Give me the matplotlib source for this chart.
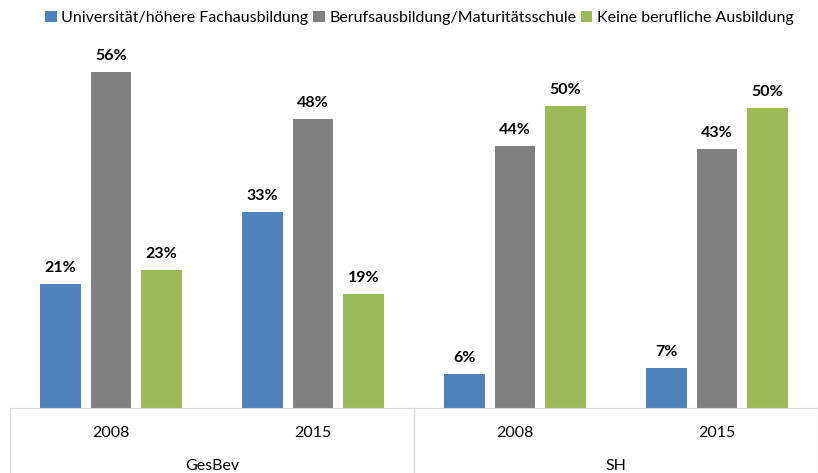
import matplotlib
matplotlib.use("Agg")
import matplotlib.pyplot as plt
import numpy as np

plt.rcParams['font.family'] = ['Lato', 'DejaVu Sans']

groups = ["GesBev", "SH"]
years = ["2008", "2015", "2008", "2015"]
series = ["Universität/höhere Fachausbildung", "Berufsausbildung/Maturitätsschule", "Keine berufliche Ausbildung"]
uni = [20.6, 32.6, 5.6, 6.7]
beruf = [55.9, 48.0, 43.6, 43.0]
keine = [23.0, 19.0, 50.2, 49.9]
colors = ["#4f81bd", "#808080", "#9bbb59"]

fig = plt.figure(figsize=(8.18, 4.73), dpi=100)
ax = fig.add_axes([10/818, 65/473, 808/818, 361/473])

x = np.arange(len(years))
w = 0.2
step = 0.25
for i, (vals, name, c) in enumerate(zip([uni, beruf, keine], series, colors)):
    pos = x + (i - 1) * step
    bars = ax.bar(pos, vals, width=w, color=c, label=name)
    for p, v in zip(pos, vals):
        ax.text(p, v + 1.5, f"{round(v):d}%", ha='center', va='bottom',
                fontsize=11.5, fontweight='bold', color='black')

ax.set_xlim(-0.5, 3.5)
ax.set_ylim(0, 60)
ax.set_yticks([])
for s in ['top', 'right', 'left']:
    ax.spines[s].set_visible(False)
ax.spines['bottom'].set_color('#d9d9d9')
ax.set_xticks(x)
ax.set_xticklabels(years, fontsize=11.5)
ax.tick_params(axis='x', length=0, pad=13)

trans = ax.get_xaxis_transform()
for gi, g in enumerate(groups):
    ax.text(gi * 2 + 0.5, -0.162, g, transform=trans, ha='center', va='center', fontsize=11.5)
for xs in [-0.5, 1.5, 3.5]:
    ax.plot([xs, xs], [0, -0.18], transform=trans, color='#d9d9d9', lw=1, clip_on=False)

fig.legend(loc='upper center', bbox_to_anchor=(0.513, 1.008), ncol=3, frameon=False,
           fontsize=11.5, handlelength=0.7, handleheight=0.7, handletextpad=0.3,
           columnspacing=0.3)

fig.savefig("out.png", dpi=100)
